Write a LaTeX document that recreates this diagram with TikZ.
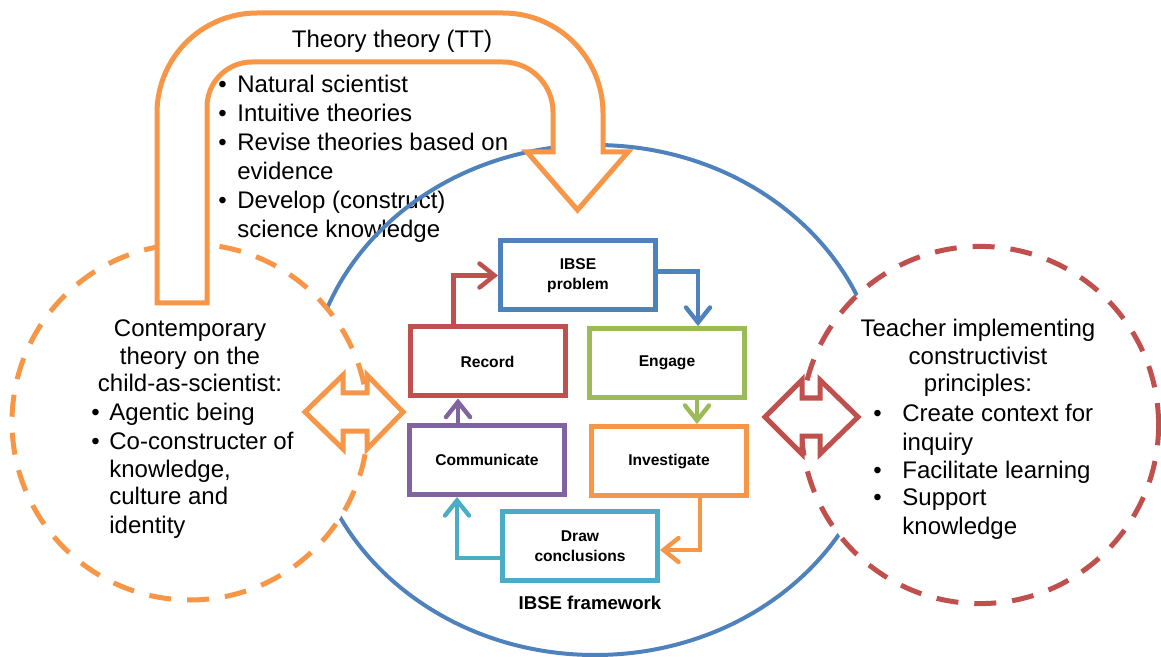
\documentclass[tikz,border=0pt]{standalone}
\usepackage{fontspec}
\setmainfont{Liberation Sans}
\usetikzlibrary{arrows.meta}
\definecolor{ofblue}{HTML}{4F81BD}
\definecolor{ofred}{HTML}{C0504D}
\definecolor{ofgreen}{HTML}{9BBB59}
\definecolor{oforange}{HTML}{F79646}
\definecolor{ofpurple}{HTML}{8064A2}
\definecolor{ofcyan}{HTML}{4BACC6}

\begin{document}
\begin{tikzpicture}[x=0.5pt,y=-0.5pt,
  stagebox/.style={draw=#1, line width=2.5pt, fill=white, minimum width=77.5pt,
    minimum height=34.5pt, align=center, inner sep=2pt,
    font=\bfseries\fontsize{7.8}{10}\selectfont},
  flow/.style={draw=#1, line width=2.2pt,
    -{Straight Barb[length=7.5pt,width=12pt,line cap=round]}},
  dashring/.style={draw=#1, line width=2.5pt, fill=white, dash pattern=on 11pt off 8pt},
  outline/.style={draw=#1, line width=2.5pt, fill=white, line join=miter},
  body/.style={font=\fontsize{12}{14}\selectfont, inner sep=0pt},
]
\useasboundingbox (0,0) rectangle (1161,657);

% bullet list inside the bend of the theory arrow
\node[body, font=\fontsize{12}{14.5}\selectfont, anchor=north west] (ttlist) at (218,72)
  {\begin{tabular}{@{}l@{\hspace{5.3pt}}l@{}}
   \textbullet & Natural scientist\\
   \textbullet & Intuitive theories\\
   \textbullet & Revise theories based on\\
               & evidence\\
   \textbullet & Develop (construct)\\
               & science knowledge
   \end{tabular}};

% IBSE framework ring
\draw[ofblue, line width=2pt] (595,400) ellipse [x radius=143.5pt, y radius=127.5pt];

% IBSE cycle
\node[stagebox=ofblue]   (ibse)        at (578,275.5) {IBSE\\problem};
\node[stagebox=ofred]    (record)      at (487.5,361.5) {Record};
\node[stagebox=ofgreen]  (engage)      at (667,363) {Engage};
\node[stagebox=ofpurple] (communicate) at (487,460) {Communicate};
\node[stagebox=oforange] (investigate) at (669,461) {Investigate};
\node[stagebox=ofcyan]   (concl)       at (580,546) {Draw\\conclusions};

\draw[flow=ofred]    ([xshift=-17pt]record.north) |- (ibse.west);
\draw[flow=ofblue]   ([yshift=2pt]ibse.east) -| ([xshift=15.5pt]engage.north);
\draw[flow=ofgreen]  ([xshift=15pt]engage.south) -- ([xshift=15pt]engage.south |- investigate.north);
\draw[flow=oforange] ([xshift=15.5pt]investigate.south) |- ([yshift=-2pt]concl.east);
\draw[flow=ofcyan]   ([yshift=-6pt]concl.west) -| ([xshift=-15pt]communicate.south);
\draw[flow=ofpurple] ([xshift=-14.5pt]communicate.north) -- ([xshift=-14.5pt]communicate.north |- record.south);

\node[inner sep=0pt, font=\bfseries\fontsize{9.3}{11}\selectfont] (framework) at (590,603) {IBSE framework};

% side rings
\draw[dashring=oforange] (190,422) circle [radius=89pt];
\draw[dashring=ofred]    (980,425) circle [radius=89.3pt];

% two-headed arrows
\draw[outline=oforange] (305,412) -- (343,375) -- (343,393) -- (367,393) -- (367,375)
  -- (403,412) -- (367,449) -- (367,431) -- (343,431) -- (343,449) -- cycle;
\draw[outline=ofred] (765,417) -- (802,380) -- (802,398) -- (820,398) -- (820,380)
  -- (858,417) -- (820,454) -- (820,436) -- (802,436) -- (802,454) -- cycle;

% U-turn arrow of the theory theory
\draw[outline=oforange] (157,303) -- (157,113)
  .. controls (157,57.8) and (201.8,13) .. (257,13) -- (503,13)
  .. controls (558.2,13) and (603,57.8) .. (603,113) -- (603,152) -- (628,152)
  -- (577.5,210) -- (527,152) -- (553,152) -- (553,112)
  .. controls (553,84.4) and (530.6,62) .. (503,62) -- (252,62)
  .. controls (227.1,62) and (207,82.1) .. (207,107) -- (207,303) -- cycle;
\node[body] (tttitle) at (392,41) {Theory theory (TT)};

% text of the child-as-scientist ring
\node[body, anchor=north] (childhead) at (190,316)
  {\begin{tabular}{@{}c@{}}Contemporary\\theory on the\\child-as-scientist:\end{tabular}};
\node[body, anchor=north west] (childlist) at (91,401)
  {\begin{tabular}{@{}l@{\hspace{4.8pt}}l@{}}
   \textbullet & Agentic being\\
   \textbullet & Co-constructer of\\
               & knowledge,\\
               & culture and\\
               & identity
   \end{tabular}};

% text of the teacher ring
\node[body, anchor=north] (teacherhead) at (978,316)
  {\begin{tabular}{@{}c@{}}Teacher implementing\\constructivist\\principles:\end{tabular}};
\node[body, anchor=north west] (teacherlist) at (873,402)
  {\begin{tabular}{@{}l@{\hspace{10.3pt}}l@{}}
   \textbullet & Create context for\\
               & inquiry\\
   \textbullet & Facilitate learning\\
   \textbullet & Support\\
               & knowledge
   \end{tabular}};
\end{tikzpicture}
\end{document}
